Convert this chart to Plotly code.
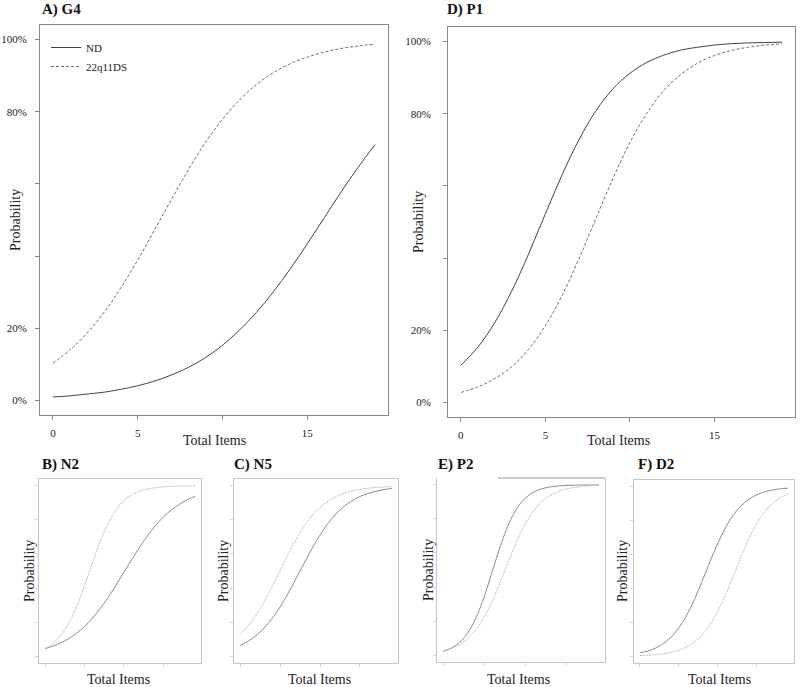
import plotly.graph_objects as go

# ---------------- data ----------------
total_items = list(range(20))
series_names = ["ND", "22q11DS"]
panel_titles = ["A) G4", "D) P1", "B) N2", "C) N5", "E) P2", "F) D2"]

g4_nd = [0.010, 0.013, 0.018, 0.023, 0.031, 0.041, 0.054, 0.071, 0.092, 0.119,
         0.153, 0.195, 0.244, 0.301, 0.365, 0.434, 0.506, 0.578, 0.646, 0.709]
g4_22q = [0.103, 0.140, 0.186, 0.243, 0.312, 0.389, 0.473, 0.558, 0.640, 0.715,
          0.779, 0.832, 0.875, 0.908, 0.933, 0.951, 0.965, 0.975, 0.982, 0.987]

p1_nd = [0.103, 0.153, 0.221, 0.308, 0.411, 0.523, 0.632, 0.729, 0.809, 0.869,
         0.912, 0.942, 0.962, 0.976, 0.984, 0.990, 0.994, 0.996, 0.997, 0.998]
p1_22q = [0.028, 0.043, 0.066, 0.099, 0.147, 0.213, 0.298, 0.400, 0.511, 0.621,
          0.720, 0.801, 0.864, 0.908, 0.940, 0.961, 0.975, 0.984, 0.990, 0.993]

n2_nd = [0.044, 0.059, 0.078, 0.103, 0.135, 0.174, 0.223, 0.280, 0.345, 0.417,
         0.493, 0.568, 0.641, 0.708, 0.767, 0.817, 0.858, 0.891, 0.918, 0.938]
n2_22q = [0.045, 0.075, 0.122, 0.193, 0.291, 0.413, 0.547, 0.675, 0.781, 0.859,
          0.913, 0.947, 0.969, 0.982, 0.989, 0.994, 0.996, 0.998, 0.999, 0.999]

n5_nd = [0.063, 0.088, 0.121, 0.165, 0.221, 0.289, 0.368, 0.455, 0.545, 0.632,
         0.711, 0.779, 0.835, 0.879, 0.912, 0.937, 0.955, 0.968, 0.978, 0.984]
n5_22q = [0.128, 0.177, 0.241, 0.318, 0.406, 0.501, 0.596, 0.685, 0.761, 0.824,
          0.873, 0.910, 0.937, 0.956, 0.970, 0.979, 0.986, 0.990, 0.993, 0.996]

p2_nd = [0.023, 0.042, 0.075, 0.131, 0.219, 0.343, 0.493, 0.643, 0.770, 0.862,
         0.921, 0.956, 0.976, 0.987, 0.993, 0.996, 0.998, 0.999, 0.999, 1.000]
p2_22q = [0.024, 0.039, 0.062, 0.097, 0.149, 0.223, 0.319, 0.433, 0.555, 0.670,
          0.769, 0.844, 0.899, 0.935, 0.959, 0.975, 0.984, 0.990, 0.994, 0.996]

d2_nd = [0.020, 0.031, 0.048, 0.075, 0.113, 0.168, 0.242, 0.336, 0.445, 0.560,
         0.668, 0.761, 0.835, 0.889, 0.927, 0.953, 0.970, 0.981, 0.988, 0.992]
d2_22q = [0.004, 0.006, 0.009, 0.014, 0.023, 0.035, 0.055, 0.084, 0.127, 0.187,
          0.267, 0.365, 0.477, 0.591, 0.696, 0.784, 0.852, 0.901, 0.935, 0.958]

y_tick_vals = [0, 0.2, 0.4, 0.6, 0.8, 1.0]
y_tick_text = ["0%", "20%", "", "", "80%", "100%"]
x_tick_vals = [0, 5, 10, 15]
x_tick_text = ["0", "5", "", "15"]

panel_series = [(g4_nd, g4_22q), (p1_nd, p1_22q), (n2_nd, n2_22q),
                (n5_nd, n5_22q), (p2_nd, p2_22q), (d2_nd, d2_22q)]

# ---------------- layout helpers ----------------
W, H = 800, 687
SERIF = "Liberation Serif, Times New Roman, serif"


def px(x):
    return x / W


def py(y):
    return 1 - y / H


# plot boxes in pixels: (left, right, top, bottom)
boxes = [(40, 388, 25, 415), (448, 795, 27, 417),
         (39, 201, 479, 663), (234, 398, 479, 663),
         (437, 605, 478, 662), (634, 794, 480, 663)]
big = [True, True, False, False, False, False]

fig = go.Figure()

for i, ((nd, q22), box) in enumerate(zip(panel_series, boxes)):
    n = i + 1
    xa = "x" if n == 1 else f"x{n}"
    ya = "y" if n == 1 else f"y{n}"
    if big[i]:
        c_nd, c_q, w, dq = "#444444", "#6e6e6e", 1.0, "3px,2px"
    else:
        c_nd, c_q, w, dq = "#8c8c8c", "#bdbdbd", 1.0, "2px,1px"
    fig.add_trace(go.Scatter(
        x=total_items, y=nd, mode="lines", name=series_names[0],
        line=dict(color=c_nd, width=w, shape="spline", smoothing=1.0),
        xaxis=xa, yaxis=ya, showlegend=(n == 1), legendrank=1,
        hoverinfo="skip"))
    fig.add_trace(go.Scatter(
        x=total_items, y=q22, mode="lines", name=series_names[1],
        line=dict(color=c_q, width=w, dash=dq, shape="spline", smoothing=1.0),
        xaxis=xa, yaxis=ya, showlegend=(n == 1), legendrank=2,
        hoverinfo="skip"))

    l, r, t, b = box
    if big[i]:
        lc, tc, tl = "#8a8a8a", "#8a8a8a", 4
    else:
        lc, tc, tl = "#c6c6c6", "#d4d4d4", 3
    xaxis = dict(domain=[px(l), px(r)], anchor=ya, range=[-0.76, 19.76],
                 tickvals=x_tick_vals, ticktext=x_tick_text,
                 ticks="outside", ticklen=tl, tickcolor=tc, tickwidth=1,
                 showline=True, linecolor=lc, linewidth=1, mirror=True,
                 showgrid=False, zeroline=False, fixedrange=True,
                 showticklabels=big[i], ticklabelstandoff=4,
                 tickfont=dict(family=SERIF, size=11, color="#222"))
    yaxis = dict(domain=[py(b), py(t)], anchor=xa, range=[-0.04, 1.04],
                 tickvals=y_tick_vals, ticktext=y_tick_text,
                 ticks="outside", ticklen=tl, tickcolor=tc, tickwidth=1,
                 showline=True, linecolor=lc, linewidth=1, mirror=True,
                 showgrid=False, zeroline=False, fixedrange=True,
                 showticklabels=big[i], ticklabelstandoff=(6 if n == 1 else 10),
                 tickfont=dict(family=SERIF, size=11, color="#222"))
    if n == 5:
        xaxis["mirror"] = False
    fig.layout[("xaxis" if n == 1 else f"xaxis{n}")] = xaxis
    fig.layout[("yaxis" if n == 1 else f"yaxis{n}")] = yaxis

annotations = []
# panel titles
title_pos = [(40, 9), (445, 9), (40, 464), (232, 464), (436, 464), (636, 464)]
for txt, (x, y) in zip(panel_titles, title_pos):
    annotations.append(dict(text=f"<b>{txt}</b>", x=px(x), y=py(y),
                            xref="paper", yref="paper", xanchor="left",
                            yanchor="middle", showarrow=False,
                            font=dict(family=SERIF, size=15, color="#111")))
# y-axis titles
ylab_pos = [(15, 220), (419, 222), (29, 571), (223, 571), (428, 570), (622, 571)]
for x, y in ylab_pos:
    annotations.append(dict(text="Probability", x=px(x), y=py(y),
                            xref="paper", yref="paper", xanchor="center",
                            yanchor="middle", textangle=-90, showarrow=False,
                            font=dict(family=SERIF, size=14, color="#222")))
# x-axis titles
xlab_pos = [(214, 440), (618, 440), (118, 679), (319, 679), (518, 679), (719, 679)]
for x, y in xlab_pos:
    annotations.append(dict(text="Total Items", x=px(x), y=py(y),
                            xref="paper", yref="paper", xanchor="center",
                            yanchor="middle", showarrow=False,
                            font=dict(family=SERIF, size=14, color="#222")))

shapes = [dict(type="line", xref="paper", yref="paper",
               x0=px(498), x1=px(605), y0=py(478), y1=py(478),
               line=dict(color="#9a9a9a", width=1))]

fig.update_layout(
    width=W, height=H,
    margin=dict(l=0, r=0, t=0, b=0),
    paper_bgcolor="white", plot_bgcolor="white",
    annotations=annotations, shapes=shapes,
    showlegend=True,
    legend=dict(x=px(46), y=py(33), xanchor="left", yanchor="top",
                bgcolor="rgba(0,0,0,0)", borderwidth=0,
                font=dict(family=SERIF, size=11, color="#222"),
                itemwidth=30, tracegroupgap=0),
)

fig.write_html(
    "out.html",
    config={"displayModeBar": False},
    post_script="document.body.style.margin='0px';"
                "document.body.style.overflow='hidden';",
)
